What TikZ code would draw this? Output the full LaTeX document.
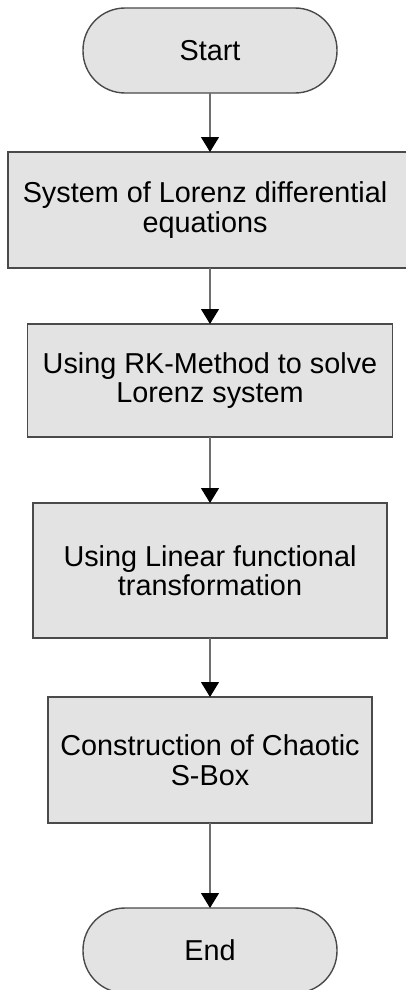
\documentclass[tikz,border=0pt]{standalone}
\usepackage{fontspec}
\setmainfont{Liberation Sans}
\usetikzlibrary{arrows.meta}
\definecolor{boxfill}{HTML}{E3E3E3}
\definecolor{boxline}{HTML}{4A4A4A}
\definecolor{linkline}{HTML}{6E6E6E}
\begin{document}
\begin{tikzpicture}[x=1pt,y=1pt,
  base/.style={draw=boxline,fill=boxfill,line width=1.4pt,inner sep=0pt,outer sep=0pt,
    align=center,font=\fontsize{28.8}{29.5}\selectfont},
  stepbox/.style={base,rectangle},
  terminal/.style={base,rectangle,rounded corners=42pt,minimum width=254pt,minimum height=85pt},
  link/.style={draw=linkline,line width=1.1pt,-{Triangle[length=15pt,width=18pt,color=black]}}]
\useasboundingbox (0,0) rectangle (406,-990);
\clip (0,0) rectangle (406,-990);
\fill[white] (0,0) rectangle (406,-990);

\node[terminal] (start) at (210,-50.5) {Start};
% the first step runs past the right edge of the page
\node[stepbox,minimum width=412pt,minimum height=116pt] (b1) at (214,-210)
  {\hspace*{-18pt}System of Lorenz differential\\\hspace*{-18pt}equations};
\node[stepbox,minimum width=365pt,minimum height=113pt] (b2) at (210,-380.5)
  {Using RK-Method to solve\\Lorenz system};
\node[stepbox,minimum width=354pt,minimum height=135pt] (b3) at (210,-570.5)
  {Using Linear functional\\transformation};
\node[stepbox,minimum width=324pt,minimum height=126pt] (b4) at (210,-760)
  {Construction of Chaotic\\S-Box};
\node[terminal] (end) at (210,-950.5) {End};

\draw[link] (start) -- (b1.north -| start.south);
\draw[link] (b1.south -| b2.north) -- (b2);
\draw[link] (b2) -- (b3);
\draw[link] (b3) -- (b4);
\draw[link] (b4) -- (end);
\end{tikzpicture}
\end{document}
